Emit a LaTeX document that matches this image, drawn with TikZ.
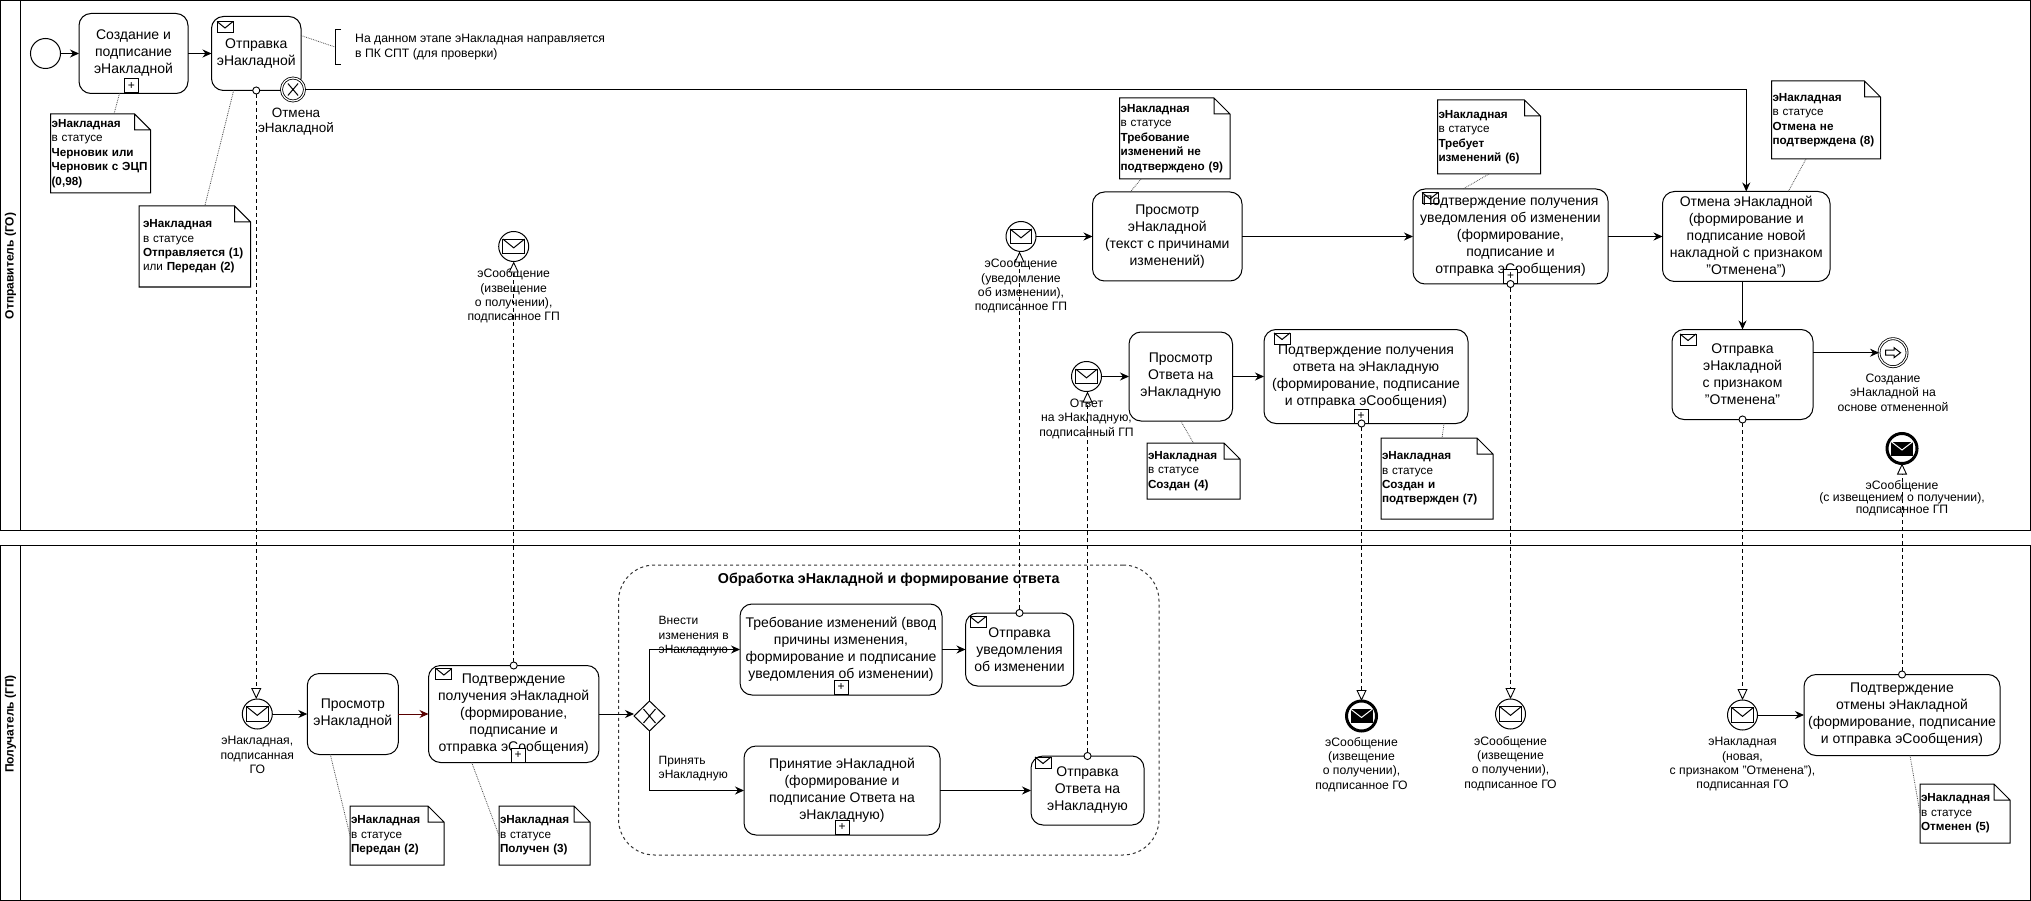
\documentclass[tikz,border=0pt]{standalone}
\usepackage{fontspec}
\setmainfont{Liberation Sans}
\usepackage{tikz}
\usetikzlibrary{positioning,arrows.meta,shapes.geometric}

\begin{document}
\begin{tikzpicture}[
    x=1pt, y=-1pt,
    lane/.style={rectangle, draw, line width=1pt, inner sep=0pt, outer sep=0pt},
    lanetitle/.style={font=\fontsize{12}{14}\selectfont\bfseries, inner sep=0pt},
    task/.style={rectangle, rounded corners=12pt, draw, fill=white, line width=1pt, align=center, inner sep=0pt, outer sep=0pt, font=\fontsize{14}{17}\selectfont},
    group/.style={rectangle, rounded corners=36pt, draw=black!80, dashed, line width=1pt, inner sep=0pt, outer sep=0pt},
    event/.style={circle, draw, fill=white, line width=1pt, minimum size=30pt, inner sep=0pt, outer sep=0pt},
    blackevent/.style={event, line width=3pt},
    ringevent/.style={circle, draw, fill=white, line width=.8pt, double, double distance=1.2pt, inner sep=0pt, outer sep=0pt},
    gateway/.style={diamond, draw, fill=white, line width=1pt, minimum width=31pt, minimum height=30pt, inner sep=0pt, outer sep=0pt},
    plusbox/.style={rectangle, draw, fill=white, line width=1pt, minimum size=14pt, inner sep=0pt, font=\fontsize{12}{12}\selectfont},
    evlabel/.style={align=center, inner sep=0pt, font=\fontsize{12.2}{14.4}\selectfont},
    pathlabel/.style={align=left, inner sep=0pt, font=\fontsize{12}{14.6}\selectfont},
    note/.style={rectangle, align=left, inner ysep=0pt, inner xsep=1pt, outer sep=0pt, font=\fontsize{11.7}{14.4}\selectfont,
        append after command={\pgfextra{\draw[line width=1pt]
            (\tikzlastnode.north west) -- ([xshift=-16pt]\tikzlastnode.north east)
            -- ([yshift=-16pt]\tikzlastnode.north east) -- (\tikzlastnode.south east)
            -- (\tikzlastnode.south west) -- cycle
            ([xshift=-16pt]\tikzlastnode.north east) -- ([xshift=-16pt,yshift=-16pt]\tikzlastnode.north east)
            -- ([yshift=-16pt]\tikzlastnode.north east);}}},
    arrow/.style={->, >={Stealth[length=9pt,width=8pt]}, line width=1pt},
    msgflow/.style={{Circle[open,length=8pt,fill=white]}-{Triangle[open,length=11pt,width=10pt,fill=white]}, dash pattern=on 4pt off 3pt, line width=.9pt, shorten <=-4pt},
    notelink/.style={draw=black!70, densely dotted, line width=.8pt},
    envelope/.pic={
        \draw[line width=1pt] (-8,-5.5) rectangle (8,5.5);
        \draw[line width=1pt] (-8,-5.5) -- (0,1) -- (8,-5.5);
    },
    blackenvelope/.pic={
        \fill (-11,-7) rectangle (11,7);
        \draw[white, line width=1pt] (-11,-7) -- (0,1.5) -- (11,-7);
    },
    xmark/.pic={
        \draw[line width=1pt] (-6,-7) -- (6,7) (-6,7) -- (6,-7);
    },
    outarrow/.pic={
        \draw[line width=1pt] (-7.5,-2.5) -- (1,-2.5) -- (1,-5) -- (7.5,0) -- (1,5) -- (1,2.5) -- (-7.5,2.5) -- cycle;
    }
]
\useasboundingbox (0,0) rectangle (2031,901);

% Lanes
\node[lane, minimum width=2030pt, minimum height=529.5pt] (sender) at (1015.5,265.5) {};
\node[lane, minimum width=2030pt, minimum height=355pt] (receiver) at (1015.5,722.5) {};
\draw[line width=1pt] ([xshift=20pt]sender.north west) -- ([xshift=20pt]sender.south west);
\draw[line width=1pt] ([xshift=20pt]receiver.north west) -- ([xshift=20pt]receiver.south west);
\node[lanetitle, rotate=90] (sendertitle) at (10.5,266) {Отправитель (ГО)};
\node[lanetitle, rotate=90] (receivertitle) at (10.5,724) {Получатель (ГП)};

% Sender: creation
\node[event] (start) at (45.5,53.5) {};
\node[task, right=18.5pt of start, minimum width=109pt, minimum height=80pt] (create) {Создание и\\подписание\\эНакладной};
\node[plusbox, anchor=south, xshift=-2pt] (createplus) at (create.south) {+};
\node[task, right=23.5pt of create, minimum width=89.5pt, minimum height=74pt] (send) {Отправка\\эНакладной};
\pic at ([xshift=13.5pt,yshift=-10.5pt]send.north west) {envelope};
\node[ringevent, minimum size=23pt] (cancelev) at (293,89.5) {};
\pic[scale=.85] at (cancelev) {xmark};
\node[evlabel, font=\fontsize{13.5}{15}\selectfont, below=7pt of cancelev, xshift=3pt] (cancelevlabel) {Отмена\\эНакладной};
\node[pathlabel, anchor=west, inner xsep=20pt, minimum height=34pt, font=\fontsize{12.2}{15}\selectfont] (ann) at (335,47) {На данном этапе эНакладная направляется\\в ПК СПТ (для проверки)};
\draw[line width=1pt] ([xshift=6pt]ann.north west) -- (ann.north west) -- (ann.south west) -- ([xshift=6pt]ann.south west);

\node[note, text width=98pt, minimum height=79pt] (notedraft) at (100.6,153.5) {\textbf{эНакладная}\\в статусе\\\textbf{Черновик или}\\\textbf{Черновик с ЭЦП}\\\textbf{(0,98)}};
\node[note, inner xsep=4pt, text width=103.6pt, minimum height=81pt] (notesent) at (194.8,246.5) {\textbf{эНакладная}\\в статусе\\\textbf{Отправляется (1)}\\или \textbf{Передан (2)}};

% Sender: incoming messages
\node[event] (evreceipt) at (513.7,246.5) {};
\pic[scale=1.35] at (evreceipt) {envelope};
\node[evlabel, below=7pt of evreceipt] (evreceiptlabel) {эСообщение\\(извещение\\о получении),\\подписанное ГП};

\node[event] (evchange) at (1021,236.5) {};
\pic[scale=1.35] at (evchange) {envelope};
\node[evlabel, below=7pt of evchange] (evchangelabel) {эСообщение\\(уведомление\\об изменении),\\подписанное ГП};
\node[task, right=56.5pt of evchange, minimum width=149.5pt, minimum height=89pt] (viewchange) {Просмотр\\эНакладной\\(текст с причинами\\изменений)};
\node[task, right=171pt of viewchange, minimum width=195pt, minimum height=95pt] (confchange) {Подтверждение получения\\уведомления об изменении\\(формирование,\\подписание и\\отправка эСообщения)};
\pic at ([xshift=17pt,yshift=-9pt]confchange.north west) {envelope};
\node[plusbox, anchor=south] (confchangeplus) at (confchange.south) {+};
\node[task, right=54.5pt of confchange, minimum width=167.5pt, minimum height=90pt] (cancel) {Отмена эНакладной\\(формирование и\\подписание новой\\накладной с признаком\\"Отменена")};
\node[task, below=48pt of cancel, xshift=-3.75pt, minimum width=141pt, minimum height=90pt] (marked) {Отправка\\эНакладной\\с признаком\\ "Отменена"};
\pic at ([xshift=16pt,yshift=-10pt]marked.north west) {envelope};
\node[ringevent, right=66pt of marked, yshift=21.8pt, minimum size=28pt] (endev) {};
\pic at (endev) {outarrow};
\node[evlabel, below=7pt of endev] (endevlabel) {Создание\\эНакладной на\\основе отмененной};
\node[blackevent, minimum size=30pt] (evcancelack) at (1902,448.5) {};
\pic at (evcancelack) {blackenvelope};
\node[evlabel, font=\fontsize{12.2}{11.2}\selectfont, below=17pt of evcancelack] (evcancelacklabel) {эСообщение\\(с извещением о получении),\\подписанное ГП};

\node[event] (evanswer) at (1086.5,376.5) {};
\pic[scale=1.35] at (evanswer) {envelope};
\node[evlabel, below=7pt of evanswer] (evanswerlabel) {Ответ\\на эНакладную,\\подписанный ГП};
\node[task, right=27.5pt of evanswer, minimum width=103.5pt, minimum height=89pt] (viewanswer) {Просмотр\\Ответа на\\эНакладную};
\node[task, right=31.5pt of viewanswer, minimum width=204pt, minimum height=94pt] (confanswer) {Подтверждение получения\\ответа на эНакладную\\(формирование, подписание\\и отправка эСообщения)};
\pic at ([xshift=18pt,yshift=-9pt]confanswer.north west) {envelope};
\node[plusbox, anchor=south, xshift=-5pt] (confanswerplus) at (confanswer.south) {+};

\node[note, text width=108.4pt, minimum height=81pt] (notereject) at (1174.8,138.5) {\textbf{эНакладная}\\в статусе\\\textbf{Требование}\\\textbf{изменений не}\\\textbf{подтверждено (9)}};
\node[note, text width=101pt, minimum height=74pt] (noteneeds) at (1489,137) {\textbf{эНакладная}\\в статусе\\\textbf{Требует}\\\textbf{изменений (6)}};
\node[note, text width=107pt, minimum height=78pt] (notenotcancel) at (1826,120) {\textbf{эНакладная}\\в статусе\\\textbf{Отмена не}\\\textbf{подтверждена (8)}};
\node[note, text width=91pt, minimum height=56pt] (notecreated) at (1193.5,471) {\textbf{эНакладная}\\в статусе\\\textbf{Создан (4)}};
\node[note, text width=110pt, minimum height=81pt] (noteconfirmed) at (1437,478.5) {\textbf{эНакладная}\\в статусе\\\textbf{Создан и}\\\textbf{подтвержден (7)}};

% Receiver: first steps
\node[event] (evinvoice) at (257.3,714) {};
\pic[scale=1.35] at (evinvoice) {envelope};
\node[evlabel, below=7pt of evinvoice] (evinvoicelabel) {эНакладная,\\подписанная\\ГО};
\node[task, right=35pt of evinvoice, minimum width=91pt, minimum height=81pt] (viewinvoice) {Просмотр\\эНакладной};
\node[task, right=30.2pt of viewinvoice, minimum width=170.4pt, minimum height=97pt] (confinvoice) {Подтверждение\\получения эНакладной\\(формирование,\\подписание и\\отправка эСообщения)};
\pic at ([xshift=15.4pt,yshift=-8.5pt]confinvoice.north west) {envelope};
\node[plusbox, anchor=south, xshift=4.5pt] (confinvoiceplus) at (confinvoice.south) {+};
\node[note, text width=92pt, minimum height=59pt] (notepassed) at (397,835.5) {\textbf{эНакладная}\\в статусе\\\textbf{Передан (2)}};
\node[note, text width=89pt, minimum height=59pt] (notereceived) at (544.5,835.5) {\textbf{эНакладная}\\в статусе\\\textbf{Получен (3)}};

% Receiver: processing group
\node[group, minimum width=540.5pt, minimum height=290pt] (process) at (888.75,710) {};
\node[font=\fontsize{14.3}{16}\selectfont\bfseries, inner sep=0pt, below=8pt of process.north] (processtitle) {Обработка эНакладной и формирование ответа};
\node[gateway] (choice) at (649.5,716) {};
\pic at (choice) {xmark};
\node[task, minimum width=202pt, minimum height=91pt] (request) at (841,649.5) {Требование изменений (ввод\\причины изменения,\\формирование и подписание\\уведомления об изменении)};
\node[plusbox, anchor=south] (requestplus) at (request.south) {+};
\node[task, right=23.5pt of request, minimum width=108pt, minimum height=73pt] (notify) {Отправка\\уведомления\\об изменении};
\pic at ([xshift=12.5pt,yshift=-9pt]notify.north west) {envelope};
\node[task, minimum width=196pt, minimum height=89pt] (accept) at (842,790.5) {Принятие эНакладной\\(формирование и\\подписание Ответа на\\эНакладную)};
\node[plusbox, anchor=south] (acceptplus) at (accept.south) {+};
\node[task, right=91pt of accept, minimum width=113pt, minimum height=69pt] (answer) {Отправка\\Ответа на\\эНакладную};
\pic at ([xshift=12pt,yshift=-6.5pt]answer.north west) {envelope};
\node[pathlabel, anchor=west] (choiceup) at (658.5,636.5) {Внести\\изменения в\\эНакладную};
\node[pathlabel, anchor=west] (choicedown) at (658.5,768.5) {Принять\\эНакладную};

% Receiver: closing events
\node[blackevent, minimum size=30pt] (evack) at (1361.5,716) {};
\pic at (evack) {blackenvelope};
\node[evlabel, below=6pt of evack] (evacklabel) {эСообщение\\(извещение\\о получении),\\подписанное ГО};
\node[event] (evnotice) at (1510.5,714) {};
\pic[scale=1.35] at (evnotice) {envelope};
\node[evlabel, below=7pt of evnotice] (evnoticelabel) {эСообщение\\(извещение\\о получении),\\подписанное ГО};
\node[event] (evnew) at (1742.5,715) {};
\pic[scale=1.35] at (evnew) {envelope};
\node[evlabel, below=7pt of evnew] (evnewlabel) {эНакладная\\(новая,\\с признаком "Отменена"),\\подписанная ГО};
\node[task, right=46.5pt of evnew, minimum width=196pt, minimum height=81pt] (confcancel) {Подтверждение\\отмены эНакладной\\(формирование, подписание\\и отправка эСообщения)};
\node[note, text width=88pt, minimum height=59pt] (notecancelled) at (1965,813.5) {\textbf{эНакладная}\\в статусе\\\textbf{Отменен (5)}};

% Arrows
\draw[arrow] (start) -- (create);
\draw[arrow] (create) -- (send);
\draw[arrow] (cancelev.east) -| (cancel.north);
\draw[arrow] (evchange) -- (viewchange);
\draw[arrow] (viewchange) -- (viewchange -| confchange.west);
\draw[arrow] (confchange.east |- cancel) -- (cancel);
\draw[arrow] (cancel.south -| marked.north) -- (marked);
\draw[arrow] (endev -| marked.east) -- (endev);
\draw[arrow] (evanswer) -- (viewanswer);
\draw[arrow] (viewanswer) -- (confanswer);
\draw[arrow] (evinvoice) -- (viewinvoice);
\draw[arrow, red!35!black] (viewinvoice) -- (viewinvoice -| confinvoice.west);
\draw[arrow] (confinvoice.east) -- (confinvoice.east -| choice.west);
\draw[arrow] (choice.north) |- (request.west);
\draw[arrow] (choice.south) |- (accept.west);
\draw[arrow] (request) -- (notify);
\draw[arrow] (accept) -- (answer);
\draw[arrow] (evnew) -- (confcancel);

% Message flows
\draw[msgflow] (send.south) -- (send.south |- evinvoice.north);
\draw[msgflow] (confinvoice.north) -- (confinvoice.north |- evreceipt.south);
\draw[msgflow] (notify.north) -- (notify.north |- evchange.south);
\draw[msgflow] (answer.north) -- (answer.north |- evanswer.south);
\draw[msgflow] (confanswer.south -| evack.north) -- (evack.north);
\draw[msgflow] (confchange.south) -- (confchange.south |- evnotice.north);
\draw[msgflow] (marked.south) -- (marked.south |- evnew.north);
\draw[msgflow] (confcancel.north) -- (confcancel.north |- evcancelack.south);

% Note links
\draw[notelink] ([xshift=-14pt]create.south) -- ([xshift=13.4pt]notedraft.north);
\draw[notelink] ([xshift=-22.6pt]send.south) -- ([xshift=10pt]notesent.north);
\draw[notelink] ([yshift=18pt]send.east) -- (ann.west);
\draw[notelink] ([xshift=-33.8pt]notereject.south) -- ([xshift=-37pt]viewchange.north);
\draw[notelink] (noteneeds.south) -- ([xshift=-47.5pt]confchange.north);
\draw[notelink] ([xshift=-20pt]notenotcancel.south) -- ([xshift=42pt]cancel.north);
\draw[notelink] (viewanswer.south) -- (notecreated.north);
\draw[notelink] ([xshift=78pt]confanswer.south) -- ([xshift=5pt]noteconfirmed.north);
\draw[notelink] ([xshift=-22.5pt]viewinvoice.south) -- (notepassed.west);
\draw[notelink] ([xshift=-42pt]confinvoice.south) -- (notereceived.west);
\draw[notelink] ([xshift=8pt]confcancel.south) -- (notecancelled.west);

\end{tikzpicture}
\end{document}
